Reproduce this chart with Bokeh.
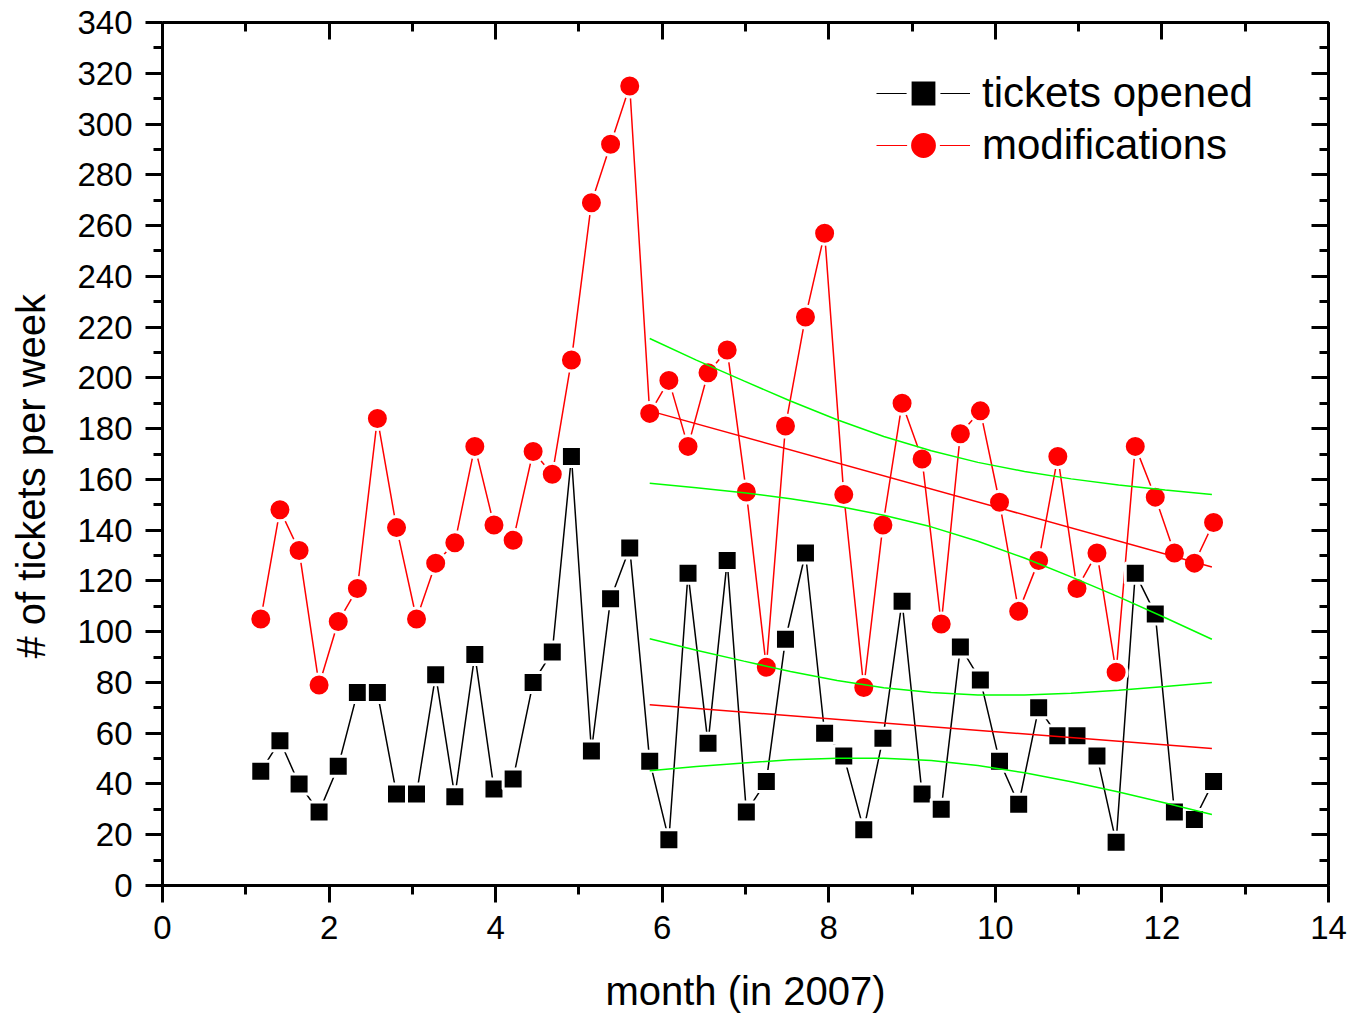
from bokeh.plotting import figure
from bokeh.models import (LinearAxis, Range1d, Legend, LegendItem,
                          SingleIntervalTicker)
from bokeh.embed import file_html
from bokeh.resources import INLINE

# month position of each week of 2007
weeks = [1.18, 1.41, 1.64, 1.88, 2.11, 2.34, 2.58, 2.81, 3.05, 3.28,
         3.51, 3.75, 3.98, 4.21, 4.45, 4.68, 4.91, 5.15, 5.38, 5.61,
         5.85, 6.08, 6.31, 6.55, 6.78, 7.01, 7.25, 7.48, 7.72, 7.95,
         8.18, 8.42, 8.65, 8.88, 9.12, 9.35, 9.58, 9.82, 10.05, 10.28,
         10.52, 10.75, 10.98, 11.22, 11.45, 11.68, 11.92, 12.15, 12.39, 12.62]

tickets_opened = [45, 57, 40, 29, 47, 76, 76, 36, 36, 83,
                  35, 91, 38, 42, 80, 92, 169, 53, 113, 133,
                  49, 18, 123, 56, 128, 29, 41, 97, 131, 60,
                  51, 22, 58, 112, 36, 30, 94, 81, 49, 32,
                  70, 59, 59, 51, 17, 123, 107, 29, 26, 41]

modifications = [105, 148, 132, 79, 104, 117, 184, 141, 105, 127,
                 135, 173, 142, 136, 171, 162, 207, 269, 292, 315,
                 186, 199, 173, 202, 211, 155, 86, 181, 224, 257,
                 154, 78, 142, 190, 168, 103, 178, 187, 151, 108,
                 128, 169, 117, 131, 84, 173, 153, 131, 127, 143]

# linear fits (weeks from June on) and their confidence bands
fit_x = [5.85, 12.6]
fit_opened = [71.2, 54.0]
fit_mods = [187.0, 125.5]

band_x = [5.85, 6.41, 6.98, 7.54, 8.10, 8.66, 9.23, 9.79, 10.35, 10.91, 11.48, 12.04, 12.6]
band_mods_upper = [215.5, 207.0, 198.8, 190.9, 183.5, 176.9, 171.3, 166.7, 163.1, 160.2, 157.8, 155.8, 154.0]
band_mods_lower = [158.5, 156.7, 154.7, 152.4, 149.5, 145.9, 141.3, 135.6, 129.0, 121.6, 113.7, 105.5, 97.0]
band_opened_upper = [97.2, 92.7, 88.4, 84.3, 80.8, 77.9, 76.0, 75.1, 75.1, 75.7, 76.9, 78.4, 80.0]
band_opened_lower = [45.2, 46.9, 48.3, 49.5, 50.1, 50.1, 49.2, 47.3, 44.4, 40.9, 36.8, 32.5, 28.0]

series_labels = ["tickets opened", "modifications"]

FONT = "Liberation Sans"
NBSP = "\u00a0"

p = figure(frame_width=1166, frame_height=863,
           x_range=Range1d(0, 14), y_range=Range1d(0, 340),
           output_backend="svg", toolbar_location=None,
           min_border_left=162, min_border_top=22,
           min_border_right=20, min_border_bottom=130,
           x_axis_label="month (in 2007)",
           y_axis_label="# of tickets per week" + NBSP * 4)
p.grid.visible = False
p.outline_line_color = None
p.background_fill_color = "white"
p.border_fill_color = "white"

p.xaxis.ticker = SingleIntervalTicker(interval=2, num_minor_ticks=2)
p.yaxis.ticker = SingleIntervalTicker(interval=20, num_minor_ticks=2)

for ax in [p.xaxis[0], p.yaxis[0]]:
    ax.axis_line_width = 3
    ax.major_tick_line_width = 3
    ax.minor_tick_line_width = 3
    ax.major_tick_out = 17
    ax.major_tick_in = 0
    ax.minor_tick_out = 9
    ax.minor_tick_in = 0
    ax.major_label_text_font = FONT
    ax.major_label_text_font_size = "33px"
    ax.major_label_text_color = "black"
    ax.axis_label_text_font = FONT
    ax.axis_label_text_font_size = "40px"
    ax.axis_label_text_font_style = "normal"
    ax.axis_label_text_color = "black"
p.xaxis.major_label_standoff = 13
p.xaxis.axis_label_standoff = 27
p.yaxis.major_label_standoff = 13
p.yaxis.axis_label_standoff = 21

for loc, ticker in [("above", SingleIntervalTicker(interval=2, num_minor_ticks=2)),
                    ("right", SingleIntervalTicker(interval=20, num_minor_ticks=2))]:
    ax = LinearAxis(ticker=ticker)
    ax.axis_line_width = 3
    ax.major_tick_line_width = 3
    ax.minor_tick_line_width = 3
    ax.major_tick_out = 0
    ax.major_tick_in = 17
    ax.minor_tick_out = 0
    ax.minor_tick_in = 9
    ax.major_label_text_font_size = "0px"
    ax.major_label_text_color = None
    ax.major_label_standoff = 0
    p.add_layout(ax, loc)

# data series
p.line(weeks, modifications, color="#ff0000", line_width=1.5)
p.line(weeks, tickets_opened, color="black", line_width=1.5)
p.scatter(weeks, modifications, marker="circle", size=22,
          fill_color="#ff0000", line_color="white", line_width=3)
p.scatter(weeks, tickets_opened, marker="square", size=20,
          fill_color="black", line_color="white", line_width=3)

# fits and confidence bands
p.line(band_x, band_mods_upper, color="#00ff00", line_width=1.5)
p.line(band_x, band_mods_lower, color="#00ff00", line_width=1.5)
p.line(band_x, band_opened_upper, color="#00ff00", line_width=1.5)
p.line(band_x, band_opened_lower, color="#00ff00", line_width=1.5)
p.line(fit_x, fit_mods, color="#ff0000", line_width=1.5)
p.line(fit_x, fit_opened, color="#ff0000", line_width=1.5)

# legend-only glyphs (placed outside the visible ranges)
off = [-100]
lk = p.line(off, off, color="black", line_width=1.2)
sk = p.scatter(off, off, marker="square", size=28, fill_color="black",
               line_color="white", line_width=5)
lr = p.line(off, off, color="#ff0000", line_width=1.2)
sr = p.scatter(off, off, marker="circle", size=31, fill_color="#ff0000",
               line_color="white", line_width=4)

for label, rends, loc in [(series_labels[0], [lk, sk], (714, 756)),
                          (series_labels[1], [lr, sr], (714, 704))]:
    legend = Legend(items=[LegendItem(label=label, renderers=rends)],
                    location=loc, glyph_width=94, glyph_height=72,
                    spacing=0, padding=0, margin=0, label_standoff=12,
                    label_text_font=FONT, label_text_font_size="42px",
                    label_text_color="black", label_height=72,
                    border_line_color=None, background_fill_alpha=0)
    p.add_layout(legend)

open("out.html", "w").write(file_html(p, INLINE))
